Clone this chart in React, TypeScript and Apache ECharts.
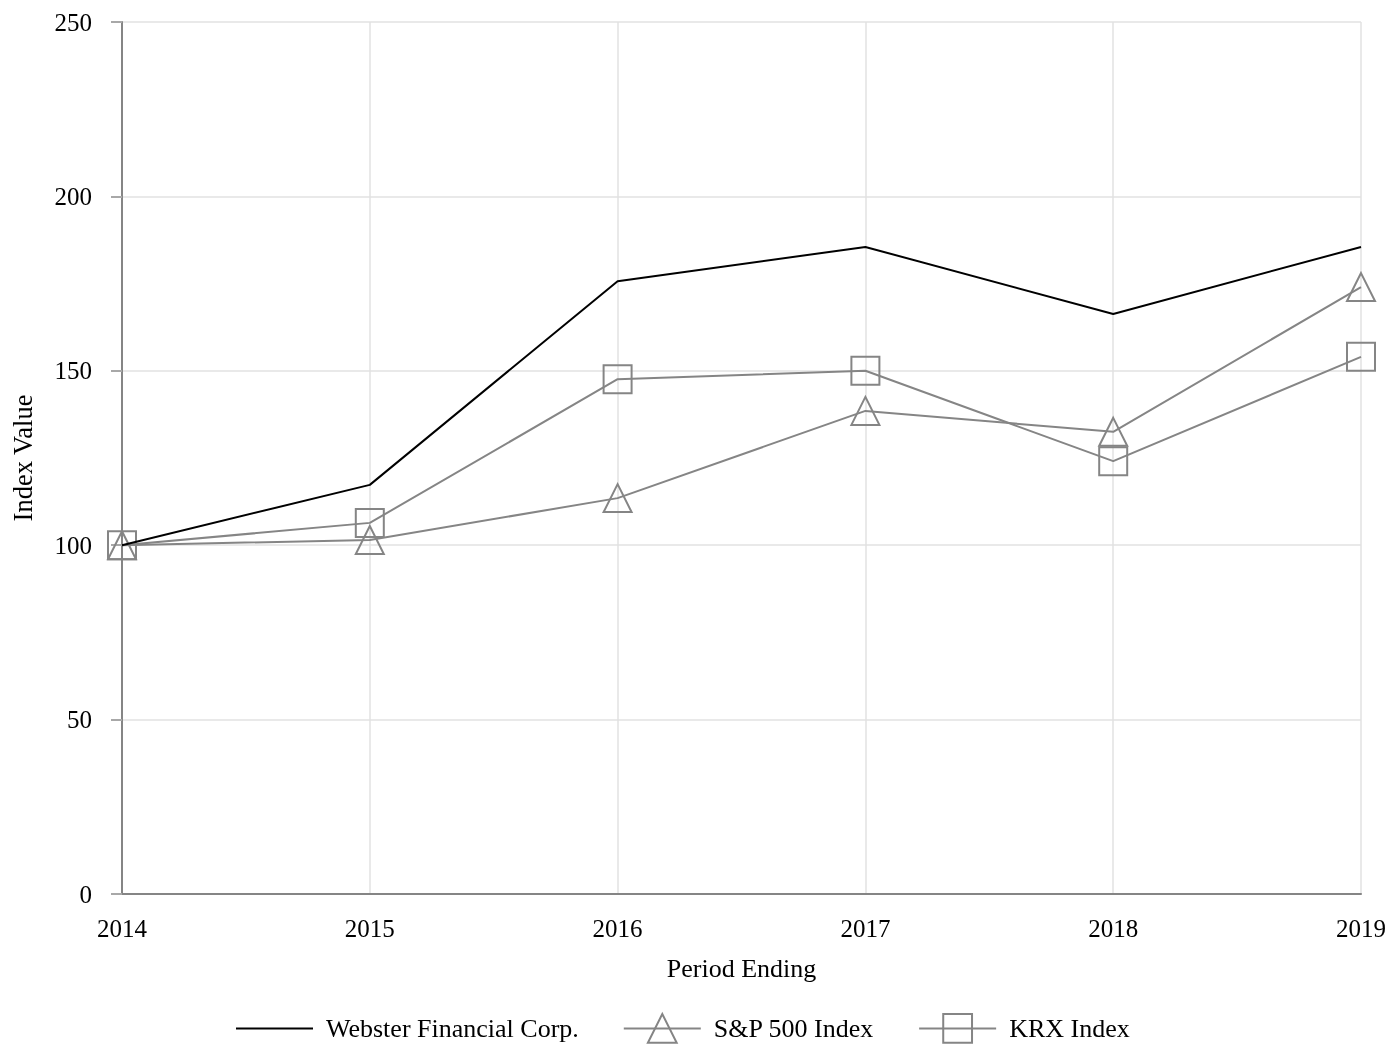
import React, { useEffect, useRef } from "react";
import * as echarts from "echarts";

const years = ["2014", "2015", "2016", "2017", "2018", "2019"];
const webster = [100, 117.3, 175.7, 185.5, 166.3, 185.5];
const sp500 = [100, 101.5, 113.5, 138.5, 132.5, 174.0];
const krx = [100, 106.4, 147.6, 150.0, 124.1, 154.0];

const FONT = "'Liberation Serif', 'Times New Roman', serif";

export default function App() {
  const ref = useRef<HTMLDivElement>(null);
  useEffect(() => {
    if (!ref.current) return;
    const chart = echarts.init(ref.current, undefined, { renderer: "svg" });
    const gray = "#858585";
    chart.setOption({
      animation: false,
      textStyle: { fontFamily: FONT, color: "#000" },
      grid: { left: 122, right: 29, top: 22, bottom: 152, containLabel: false },
      legend: {
        top: 1013,
        left: 235,
        padding: 0,
        itemWidth: 77,
        itemHeight: 36,
        itemGap: 44,
        textStyle: {
          fontFamily: FONT,
          fontSize: 26,
          lineHeight: 26,
          color: "#000",
          padding: [0, 0, 0, 8],
        },
        data: [
          { name: "Webster Financial Corp.", itemStyle: { opacity: 0 } },
          "S&P 500 Index",
          "KRX Index",
        ],
      },
      xAxis: {
        type: "category",
        data: years,
        boundaryGap: false,
        name: "Period Ending",
        nameLocation: "middle",
        nameGap: 61,
        nameTextStyle: { fontFamily: FONT, fontSize: 26, color: "#000" },
        axisLine: { lineStyle: { color: gray, width: 2 } },
        axisTick: { show: false },
        axisLabel: { fontFamily: FONT, fontSize: 25, color: "#000", margin: 22 },
        splitLine: { show: true, lineStyle: { color: "#e2e2e2", width: 1.5 } },
      },
      yAxis: {
        type: "value",
        min: 0,
        max: 250,
        interval: 50,
        name: "Index Value",
        nameLocation: "middle",
        nameGap: 86,
        nameTextStyle: { fontFamily: FONT, fontSize: 26.5, color: "#000" },
        axisLine: { show: true, lineStyle: { color: gray, width: 2 } },
        axisTick: { show: true, length: 11, lineStyle: { color: "#a8a8a8", width: 2 } },
        axisLabel: { fontFamily: FONT, fontSize: 25, color: "#000", margin: 30 },
        splitLine: { show: true, lineStyle: { color: "#e2e2e2", width: 1.5 } },
      },
      series: [
        {
          name: "Webster Financial Corp.",
          type: "line",
          data: webster,
          showSymbol: false,
          symbol: "none",
          lineStyle: { color: "#000", width: 2 },
          itemStyle: { color: "#000" },
          z: 3,
        },
        {
          name: "S&P 500 Index",
          type: "line",
          data: sp500,
          symbol: "triangle",
          symbolSize: 28,
          lineStyle: { color: gray, width: 2 },
          itemStyle: { color: "rgba(255,255,255,0)", borderColor: gray, borderWidth: 2 },
          z: 2,
        },
        {
          name: "KRX Index",
          type: "line",
          data: krx,
          symbol: "rect",
          symbolSize: 28,
          lineStyle: { color: gray, width: 2 },
          itemStyle: { color: "rgba(255,255,255,0)", borderColor: gray, borderWidth: 2 },
          z: 2,
        },
      ],
    });
    return () => chart.dispose();
  }, []);
  return <div ref={ref} style={{ width: 1390, height: 1046, position: "fixed", left: 0, top: 0 }} />;
}
